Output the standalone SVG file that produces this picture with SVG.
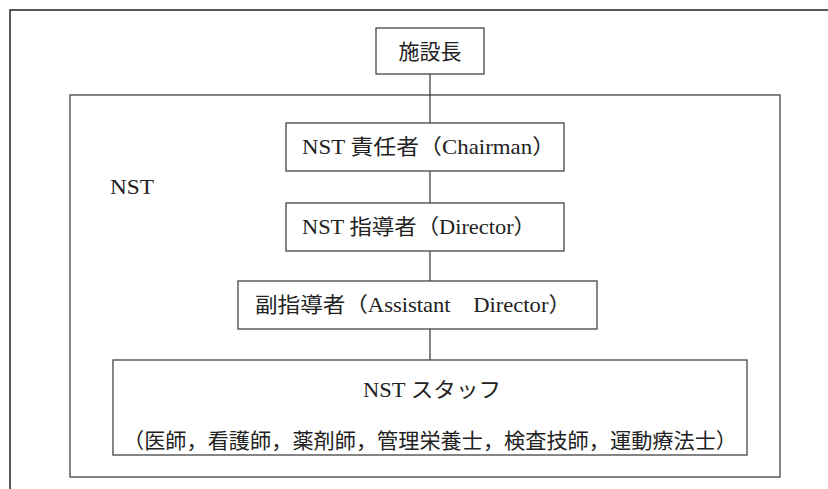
<svg xmlns="http://www.w3.org/2000/svg" width="828" height="489" viewBox="0 0 828 489">
<style>
.frame{fill:none;stroke:#222;stroke-width:1.5}
.box{fill:#fff;stroke:#444;stroke-width:1.3}
.con{stroke:#333;stroke-width:1.2;fill:none}
text{font-family:"Liberation Serif","Noto Sans CJK JP",serif;font-size:21px;fill:#222}
.cjk{font-family:"Noto Sans CJK JP",sans-serif;font-size:21px}
</style>
<rect width="828" height="489" fill="#fff"/>
<path class="frame" d="M10 489 V10 H828"/>
<g id="nst-group">
<rect class="box" x="70" y="95" width="710" height="382" stroke="#555"/>
<text x="110" y="194" textLength="44" lengthAdjust="spacingAndGlyphs">NST</text>
</g>
<g id="connectors">
<line class="con" x1="430" y1="74" x2="430" y2="123"/>
<line class="con" x1="430" y1="171" x2="430" y2="203"/>
<line class="con" x1="430" y1="251" x2="430" y2="281"/>
<line class="con" x1="430" y1="329" x2="430" y2="360"/>
</g>
<g id="head">
<rect class="box" x="376" y="28" width="108" height="46"/>
<text class="cjk" x="430" y="59" text-anchor="middle">施設長</text>
</g>
<g id="chairman">
<rect class="box" x="286" y="123" width="278" height="48"/>
<text x="302" y="154" textLength="253" lengthAdjust="spacingAndGlyphs">NST 責任者（Chairman）</text>
</g>
<g id="director">
<rect class="box" x="286" y="203" width="278" height="48"/>
<text x="302" y="234" textLength="234" lengthAdjust="spacingAndGlyphs">NST 指導者（Director）</text>
</g>
<g id="assistant">
<rect class="box" x="238" y="281" width="359" height="48"/>
<text x="255" y="312" textLength="316" lengthAdjust="spacingAndGlyphs">副指導者（Assistant　Director）</text>
</g>
<g id="staff">
<rect class="box" x="113" y="360" width="634" height="95"/>
<text x="363" y="397" textLength="138" lengthAdjust="spacingAndGlyphs">NST スタッフ</text>
<text class="cjk" x="123" y="448" textLength="614" lengthAdjust="spacingAndGlyphs">（医師，看護師，薬剤師，管理栄養士，検査技師，運動療法士）</text>
</g>
</svg>
